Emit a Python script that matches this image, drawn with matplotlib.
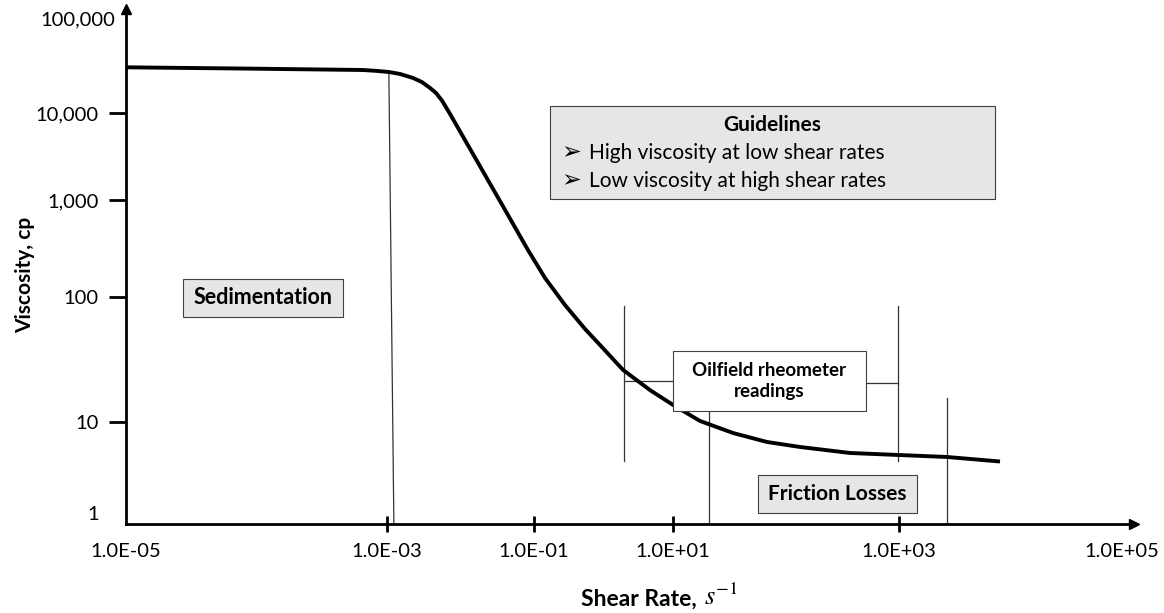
import numpy as np
import matplotlib
matplotlib.use("Agg")
from matplotlib import pyplot as plt
from matplotlib.patches import Rectangle
from matplotlib.ticker import NullLocator, FixedLocator, FixedFormatter
from matplotlib.transforms import blended_transform_factory, offset_copy

plt.rcParams['font.family'] = ['Lato', 'DejaVu Sans']
plt.rcParams['mathtext.fontset'] = 'stix'

# Flow curve (shear rate in 1/s, viscosity in cp)
shear_rate = [1e-5, 8.9e-5, 6.5e-4, 8.24e-4, 1.06e-3, 1.5e-3, 2.26e-3, 2.99e-3,
              3.85e-3, 4.64e-3, 5.6e-3, 7.08e-3, 0.0338, 0.0828, 0.144, 0.279,
              0.542, 0.891, 1.91, 4.67, 10, 17.3, 34.0, 67.9, 133, 368, 980,
              2690, 8050]
viscosity = [31000, 30000, 29000, 28400, 27600, 26300, 23800, 21500,
             18600, 16400, 13600, 10000, 1000, 305, 157, 86.3,
             55.5, 41.3, 26.1, 18.0, 13.7, 10.2, 7.80, 6.37, 5.69, 4.97, 4.75,
             4.54, 4.10]

# boundary of the sedimentation region
sed_x = [1.06e-3, 1.24e-3]
sed_y = [27600, 1]

# oilfield rheometer range bracket
rheo_lo, rheo_hi = 2.0, 980
rheo_top, rheo_bottom = 85, 4.15
rheo_box_left, rheo_box_right = 10, 511
rheo_arm_left, rheo_arm_right = 21.3, 20.5

# friction losses bracket
fric_lo, fric_hi = 20.9, 2690
fric_lo_top, fric_hi_top = 12.2, 15.6

x_ticks = [1e-5, 1e-3, 1e-1, 1e1, 1e3, 1e5]
x_labels = ["1.0E-05", "1.0E-03", "1.0E-01", "1.0E+01", "1.0E+03", "1.0E+05"]
y_ticks = [10, 100, 1000, 10000]
y_labels = ["10", "100", "1,000", "10,000"]

# the axes are drawn with uneven decades: log10 value -> distance along axis (px)
x_decades = [-5, -3, -1, 1, 3, 5]
x_lengths = [0, 261, 408, 547, 773, 996]
y_decades = [0, 1, 2, 3, 4, 5]
y_lengths = [0, 102, 227, 324, 411, 504]

W, H = 1164, 613


def piecewise(src, dst):
    src = np.asarray(src, float)
    dst = np.asarray(dst, float)
    lo = (dst[1] - dst[0]) / (src[1] - src[0])
    hi = (dst[-1] - dst[-2]) / (src[-1] - src[-2])

    def f(v):
        v = np.asarray(v, float)
        out = np.interp(v, src, dst)
        out = np.where(v < src[0], dst[0] + (v - src[0]) * lo, out)
        out = np.where(v > src[-1], dst[-1] + (v - src[-1]) * hi, out)
        return out
    return f


def decade_scale(decades, lengths):
    to_len = piecewise(decades, lengths)
    to_dec = piecewise(lengths, decades)

    def forward(v):
        v = np.asarray(v, float)
        return to_len(np.log10(np.where(v > 0, v, 1e-300)))

    def inverse(p):
        return 10.0 ** to_dec(p)
    return forward, inverse


def fx(px):
    return px / W


def fy(py):
    return 1 - py / H


fig = plt.figure(figsize=(W / 100, H / 100), dpi=100)
ax_left, ax_right, ax_top, ax_bottom = 126, 1134, 9, 524
ax = fig.add_axes([fx(ax_left), fy(ax_bottom), fx(ax_right - ax_left), (ax_bottom - ax_top) / H])

xf, xi = decade_scale(x_decades, x_lengths)
yf, yi = decade_scale(y_decades, y_lengths)
ax.set_xscale('function', functions=(xf, xi))
ax.set_yscale('function', functions=(yf, yi))
ax.set_xlim(float(xi(0)), float(xi(ax_right - ax_left)))
ax.set_ylim(float(yi(0)), float(yi(ax_bottom - ax_top)))

for s in ['top', 'right']:
    ax.spines[s].set_visible(False)
for s in ['left', 'bottom']:
    ax.spines[s].set_linewidth(2.0)
    ax.spines[s].set_color('black')
ax.plot([1], [0], marker='>', color='black', ms=7, transform=ax.transAxes, clip_on=False)
ax.plot([0], [1], marker='^', color='black', ms=7, transform=ax.transAxes, clip_on=False)

ax.xaxis.set_major_locator(FixedLocator(x_ticks))
ax.xaxis.set_major_formatter(FixedFormatter(x_labels))
ax.xaxis.set_minor_locator(NullLocator())
ax.yaxis.set_major_locator(FixedLocator(y_ticks))
ax.yaxis.set_major_formatter(FixedFormatter(y_labels))
ax.yaxis.set_minor_locator(NullLocator())
ax.tick_params(axis='x', direction='inout', length=11.5, width=2.0, pad=8,
               labelsize=14.5, colors='black')
ax.tick_params(axis='y', direction='out', length=12.5, width=2.0, pad=7,
               labelsize=14.5, colors='black')
xt = ax.xaxis.get_major_ticks()
xt[0].tick1line.set_visible(False)
xt[-1].tick1line.set_visible(False)

# end labels of the viscosity axis sit without tick marks
ytrans = blended_transform_factory(ax.transAxes, ax.transData)
ax.text(-0.011, 1e5, "100,000", transform=ytrans, ha='right', va='center', fontsize=14.5)
ax.text(-0.027, 1, "1", transform=offset_copy(ytrans, fig=fig, y=9, units='dots'),
        ha='right', va='center', fontsize=14.5)

# region boundaries and rheometer brackets
thin = dict(color='#333333', lw=0.9, zorder=2)
ax.plot(sed_x, sed_y, **thin)
ax.plot([rheo_lo, rheo_lo], [rheo_top, rheo_bottom], **thin)
ax.plot([rheo_hi, rheo_hi], [rheo_top, rheo_bottom], **thin)
ax.plot([rheo_lo, rheo_box_left], [rheo_arm_left, rheo_arm_left], **thin)
ax.plot([rheo_box_right, rheo_hi], [rheo_arm_right, rheo_arm_right], **thin)
ax.plot([fric_lo, fric_lo], [fric_lo_top, 1], **thin)
ax.plot([fric_hi, fric_hi], [fric_hi_top, 1], **thin)

ax.plot(shear_rate, viscosity, color='black', lw=2.8, solid_capstyle='butt',
        solid_joinstyle='round', zorder=5, clip_on=False)


def box(left, top, right, bottom, face):
    fig.add_artist(Rectangle((fx(left), fy(bottom)), fx(right - left), (bottom - top) / H,
                             transform=fig.transFigure, facecolor=face,
                             edgecolor='#404040', lw=0.8, zorder=4))


grey = '#e7e6e6'
box(183, 279, 343, 317, grey)
fig.text(fx(263), fy(298), "Sedimentation", ha='center', va='center',
         fontsize=15.5, fontweight='bold', zorder=6)

box(550, 106, 995, 199, grey)
fig.text(fx(772), fy(125), "Guidelines", ha='center', va='center',
         fontsize=15, fontweight='bold', zorder=6)
for yy, line in [(153, "High viscosity at low shear rates"),
                 (181, "Low viscosity at high shear rates")]:
    fig.text(fx(571), fy(yy), "\u27a2", ha='center', va='center', fontsize=17, zorder=6)
    fig.text(fx(589), fy(yy), line, ha='left', va='center', fontsize=15, zorder=6)

box(673, 351, 866, 411, 'white')
fig.text(fx(769), fy(381), "Oilfield rheometer\nreadings", ha='center', va='center',
         fontsize=13.5, fontweight='bold', linespacing=1.35, zorder=6)

box(758, 475, 917, 513, grey)
fig.text(fx(837), fy(494), "Friction Losses", ha='center', va='center',
         fontsize=15, fontweight='bold', zorder=6)

fig.text(fx(25), fy(275), "Viscosity, cp", rotation=90, ha='center', va='center',
         fontsize=15, fontweight='bold')
fig.text(fx(697), fy(599), "Shear Rate,", ha='right', va='center',
         fontsize=16.5, fontweight='bold')
fig.text(fx(704), fy(597), r"$s^{-1}$", ha='left', va='center', fontsize=19)

fig.savefig("out.png", dpi=100)
